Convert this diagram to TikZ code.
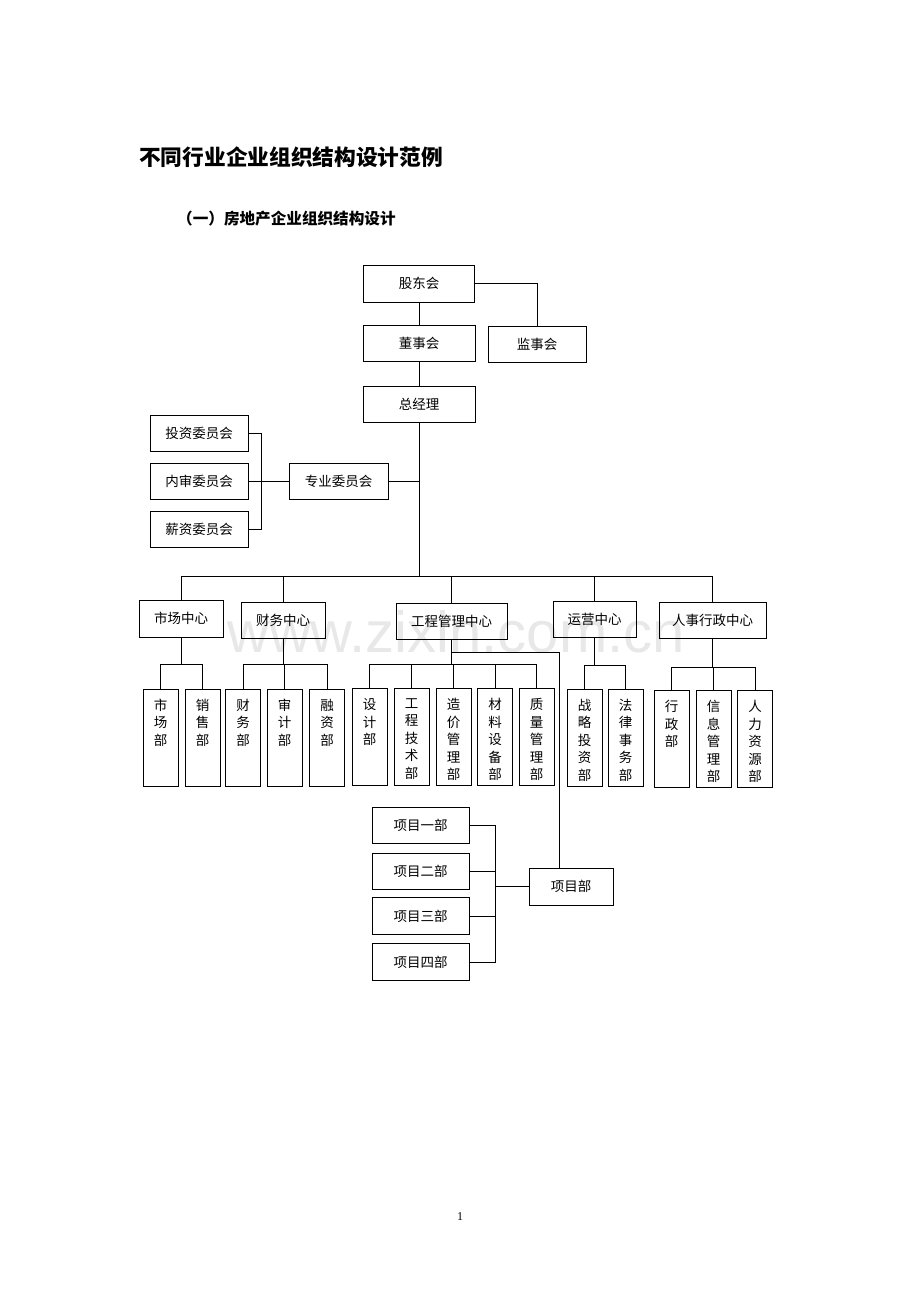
\documentclass[tikz,border=0pt]{standalone}
\usepackage{fontspec}
\setmainfont{Liberation Serif}
\newfontfamily\cjk{Noto Sans CJK SC}
\newfontfamily\wmfont{Liberation Sans}
\usetikzlibrary{calc}

\begin{document}
\begin{tikzpicture}[x=1pt, y=-1pt,
    box/.style={draw, line width=1pt, inner sep=0pt, font=\cjk\fontsize{13.5}{16}\selectfont},
    dept/.style={draw, line width=1pt, minimum width=35pt, minimum height=97pt, inner sep=0pt},
    vtext/.style={anchor=north, align=center, yshift=-7pt, font=\cjk\fontsize{13.5}{17.5}\selectfont},
    link/.style={line width=0.9pt}]
    % Page frame
    \fill[white] (0,0) rectangle (920,1302);
    \useasboundingbox (0,0) rectangle (920,1302);

    % Watermark
    \node[anchor=base, text=black!9, font=\wmfont\fontsize{58}{60}\selectfont] (wm) at (456,652) {www.zixin.com.cn};

    % Titles
    \node[anchor=west, inner sep=0pt, font=\cjk\bfseries\fontsize{21.7}{24}\selectfont] (title) at (139,157) {不同行业企业组织结构设计范例};
    \node[anchor=west, inner sep=0pt, font=\cjk\bfseries\fontsize{15.6}{18}\selectfont] (subtitle) at (177,219) {（一）房地产企业组织结构设计};

    % Top levels
    \node[box, minimum width=111pt, minimum height=37pt] (gdh) at (419,283.5) {股东会};
    \node[box, minimum width=112pt, minimum height=36pt] (dsh) at (419,343) {董事会};
    \node[box, minimum width=98pt, minimum height=36pt] (jsh) at (537,344) {监事会};
    \node[box, minimum width=112pt, minimum height=36pt] (zjl) at (419,404) {总经理};

    % Committees
    \node[box, minimum width=98pt, minimum height=36pt] (tzwy) at (199,433) {投资委员会};
    \node[box, minimum width=98pt, minimum height=36pt] (nswy) at (199,481) {内审委员会};
    \node[box, minimum width=98pt, minimum height=36pt] (xzwy) at (199,529) {薪资委员会};
    \node[box, minimum width=99pt, minimum height=36pt] (zywy) at (338.5,481) {专业委员会};

    % Centers
    \node[box, minimum width=84pt, minimum height=37pt] (sczx) at (181,618.5) {市场中心};
    \node[box, minimum width=84pt, minimum height=36pt] (cwzx) at (283,620) {财务中心};
    \node[box, minimum width=111pt, minimum height=36pt] (gczx) at (451.5,621) {工程管理中心};
    \node[box, minimum width=83pt, minimum height=36pt] (yyzx) at (594.5,619) {运营中心};
    \node[box, minimum width=107pt, minimum height=36pt] (rszx) at (712.5,620) {人事行政中心};

    % Departments
    \node[dept, label={[vtext]north:市\\场\\部}] (scb) at (160.5,737.5) {};
    \node[dept, label={[vtext]north:销\\售\\部}] (xsb) at (202.5,737.5) {};
    \node[dept, label={[vtext]north:财\\务\\部}] (cwb) at (243,737.5) {};
    \node[dept, label={[vtext]north:审\\计\\部}] (sjb) at (284.5,737.5) {};
    \node[dept, label={[vtext]north:融\\资\\部}] (rzb) at (327,737.5) {};
    \node[dept, label={[vtext]north:设\\计\\部}] (sjb2) at (369.5,737) {};
    \node[dept, label={[vtext]north:工\\程\\技\\术\\部}] (gcjs) at (411.5,737) {};
    \node[dept, label={[vtext]north:造\\价\\管\\理\\部}] (zjgl) at (453.5,737) {};
    \node[dept, label={[vtext]north:材\\料\\设\\备\\部}] (clsb) at (495,737) {};
    \node[dept, label={[vtext]north:质\\量\\管\\理\\部}] (zlgl) at (536.5,737) {};
    \node[dept, label={[vtext]north:战\\略\\投\\资\\部}] (zltz) at (584.5,737.5) {};
    \node[dept, label={[vtext]north:法\\律\\事\\务\\部}] (flsw) at (625.5,737.5) {};
    \node[dept, label={[vtext]north:行\\政\\部}] (xzb) at (671.5,739) {};
    \node[dept, label={[vtext]north:信\\息\\管\\理\\部}] (xxgl) at (713.5,739) {};
    \node[dept, label={[vtext]north:人\\力\\资\\源\\部}] (rlzy) at (755,739) {};

    % Projects
    \node[box, minimum width=97pt, minimum height=36pt] (xm1) at (420.5,825) {项目一部};
    \node[box, minimum width=97pt, minimum height=36pt] (xm2) at (420.5,871) {项目二部};
    \node[box, minimum width=97pt, minimum height=37pt] (xm3) at (420.5,916) {项目三部};
    \node[box, minimum width=97pt, minimum height=37pt] (xm4) at (420.5,962) {项目四部};
    \node[box, minimum width=84pt, minimum height=37pt] (xmb) at (571,886.5) {项目部};

    % Top links
    \draw[link] (gdh.south) -- (dsh.north);
    \draw[link] (dsh.south) -- (zjl.north);
    \draw[link] (gdh.east) -| (jsh.north);

    % Main bus
    \coordinate (bus) at (419,576);
    \draw[link] (zjl.south) -- (bus);
    \draw[link] (sczx.north) |- (bus);
    \draw[link] (cwzx.north) -- (cwzx.north |- bus);
    \draw[link] (gczx.north) -- (gczx.north |- bus);
    \draw[link] (rszx.north) |- (bus);
    \draw[link] (yyzx.north) -- (yyzx.north |- bus);

    % Committees
    \draw[link] (zywy.east) -- (zywy.east -| zjl.south);
    \draw[link] (nswy.east) -- (zywy.west);
    \draw[link] (tzwy.east) -- ++(13,0) |- (xzwy.east);

    % Sub buses
    \draw[link] (sczx.south) -- ++(0,27) coordinate (scj);
    \draw[link] (scb.north) |- (scj) -| (xsb.north);

    \draw[link] (cwzx.south) -- ++(0,26) coordinate (cwj);
    \draw[link] (cwb.north) |- (cwj) -| (rzb.north);
    \draw[link] (sjb.north) -- (sjb.north |- cwj);

    \draw[link] (gczx.south) -- ++(0,25) coordinate (gcj);
    \draw[link] (sjb2.north) |- (gcj) -| (zlgl.north);
    \foreach \d in {gcjs,zjgl,clsb}
        \draw[link] (\d.north) -- (\d.north |- gcj);

    \draw[link] (yyzx.south) -- ++(0,28) coordinate (yyj);
    \draw[link] (zltz.north) |- (yyj) -| (flsw.north);

    \draw[link] (rszx.south) -- ++(0,29) coordinate (rsj);
    \draw[link] (xzb.north) |- (rsj) -| (rlzy.north);
    \draw[link] (xxgl.north) -- (xxgl.north |- rsj);

    % Project links
    \coordinate (xmj) at (559,652);
    \draw[link] (gczx.south |- xmj) -- (xmj) -- (xmj |- xmb.north);
    \draw[link] (xm1.east) -- ++(26,0) |- (xm4.east);
    \draw[link] (xm2.east) -- ++(26,0);
    \draw[link] (xm3.east) -- ++(26,0);
    \draw[link] (xmb.west) -- ++(-34,0);

    % Page number
    \node[font=\fontsize{12}{14}\selectfont] (pg) at (460,1217) {1};
\end{tikzpicture}
\end{document}
